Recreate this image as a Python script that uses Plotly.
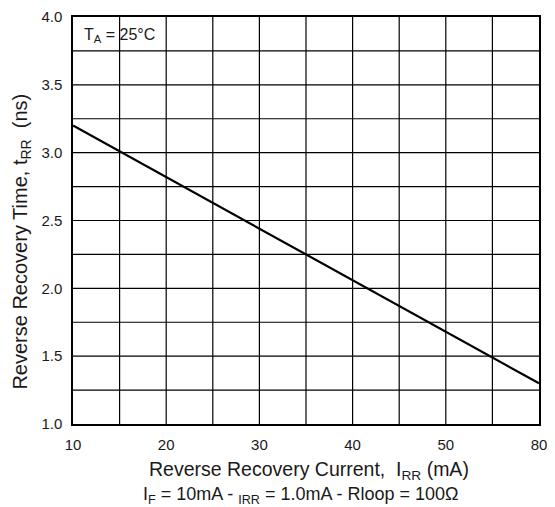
import plotly.graph_objects as go

# Data
current_ma = [10, 60]          # plotted positions (last grid column labelled "80" in the source)
trr_ns = [3.2, 1.3]
x_tick_vals = [10, 20, 30, 40, 50, 60]
x_tick_text = ["10", "20", "30", "40", "50", "80"]
y_tick_vals = [1.0, 1.5, 2.0, 2.5, 3.0, 3.5, 4.0]
y_tick_text = ["1.0", "1.5", "2.0", "2.5", "3.0", "3.5", "4.0"]

W, H = 555, 507
L, R, T, B = 64.5, 23.5, 9, 91
PW, PH = W - L - R, H - T - B
font = "Liberation Sans, Arial, sans-serif"
txt = "#1a1a1a"

def px(x):
    return (x - L) / PW

def py(y):
    return 1 - (y - T) / PH

fig = go.Figure()
fig.add_trace(go.Scatter(x=current_ma, y=trr_ns, mode="lines",
                         line=dict(color="black", width=2.2), showlegend=False,
                         hoverinfo="skip"))

fig.update_xaxes(range=[10, 60], tickvals=x_tick_vals, ticktext=x_tick_text,
                 showgrid=False, zeroline=False, automargin=False,
                 showline=True, linecolor="black", linewidth=1.5, mirror=True,
                 ticks="", ticklabelstandoff=6,
                 tickfont=dict(family=font, size=15, color=txt))
fig.update_yaxes(range=[1.0, 4.0], tickvals=y_tick_vals, ticktext=y_tick_text,
                 showgrid=False, zeroline=False, automargin=False,
                 showline=True, linecolor="black", linewidth=1.5, mirror=True,
                 ticks="", ticklabelstandoff=6,
                 tickfont=dict(family=font, size=15, color=txt))

# grid lines (every 5 mA, every 0.25 ns)
shapes = []
for i in range(1, 10):
    xv = 10 + 5 * i
    shapes.append(dict(type="line", xref="x", yref="y", x0=xv, x1=xv, y0=1.0, y1=4.0,
                       line=dict(color="black", width=1.2), layer="below"))
for j in range(1, 12):
    yv = 1.0 + 0.25 * j
    shapes.append(dict(type="line", xref="x", yref="y", x0=10, x1=60, y0=yv, y1=yv,
                       line=dict(color="black", width=1.2), layer="below"))

annotations = [
    dict(text="T<sub>A</sub> = 25°C", xref="x", yref="y", x=11.0, y=3.867,
         xanchor="left", yanchor="middle", showarrow=False,
         font=dict(family=font, size=16, color=txt)),
    dict(text="Reverse Recovery Time, t<sub>RR</sub>  (ns)", xref="paper", yref="paper",
         x=px(12), y=py(234), textangle=-90, xanchor="center", yanchor="middle",
         showarrow=False, font=dict(family=font, size=20, color=txt)),
    dict(text="Reverse Recovery Current,  I<sub>RR</sub> (mA)", xref="paper", yref="paper",
         x=px(301), y=py(462), xanchor="center",
         yanchor="middle", showarrow=False, font=dict(family=font, size=19.5, color=txt)),
    dict(text="I<sub>F</sub> = 10mA - <sub>IRR</sub> = 1.0mA - Rloop = 100Ω", xref="paper", yref="paper",
         x=px(293), y=py(487), xanchor="center",
         yanchor="middle", showarrow=False, font=dict(family=font, size=18, color=txt)),
    dict(text="Reverse Recovery Time", xref="paper", yref="paper",
         x=px(158), y=py(0), xanchor="left",
         yanchor="bottom", showarrow=False, font=dict(family=font, size=16, color=txt)),
]

fig.update_layout(width=W, height=H, margin=dict(l=L, r=R, t=T, b=B, pad=0),
                  paper_bgcolor="white", plot_bgcolor="white",
                  shapes=shapes, annotations=annotations)

fig.write_html("out.html")
